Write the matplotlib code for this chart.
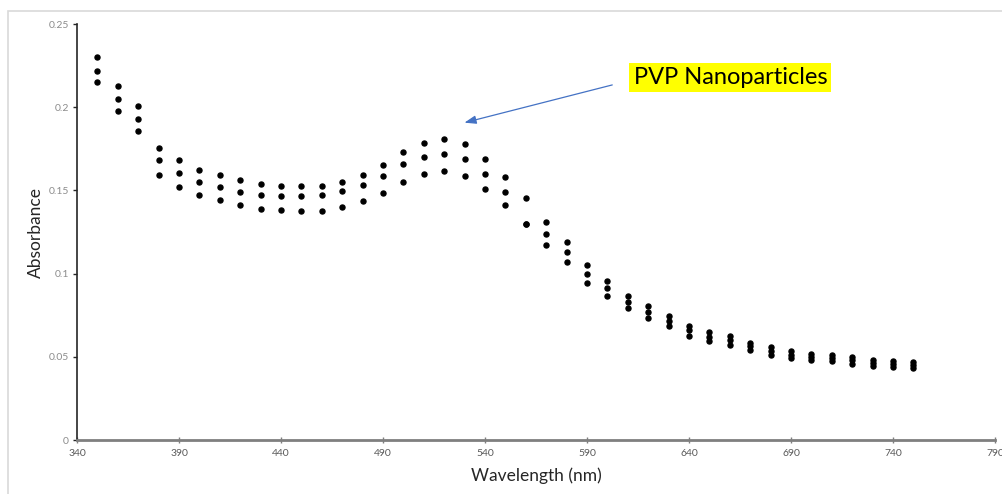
import matplotlib
matplotlib.use("Agg")
import matplotlib.pyplot as plt
from matplotlib.patches import Rectangle

# UV-Vis absorbance of PVP nanoparticles, three repeat scans
wavelength = [350, 360, 370, 380, 390, 400, 410, 420, 430, 440,
              450, 460, 470, 480, 490, 500, 510, 520, 530, 540,
              550, 560, 570, 580, 590, 600, 610, 620, 630, 640,
              650, 660, 670, 680, 690, 700, 710, 720, 730, 740, 750]

scan_1 = [0.2300, 0.2130, 0.2010, 0.1755, 0.1680, 0.1625, 0.1590, 0.1560, 0.1540, 0.1525,
          0.1525, 0.1528, 0.1553, 0.1594, 0.1650, 0.1730, 0.1785, 0.1810, 0.1780, 0.1690,
          0.1580, 0.1454, 0.1308, 0.1192, 0.1052, 0.0958, 0.0867, 0.0807, 0.0747, 0.0687,
          0.0647, 0.0623, 0.0585, 0.0558, 0.0533, 0.0518, 0.0513, 0.0497, 0.0483, 0.0477, 0.0470]

scan_2 = [0.2220, 0.2050, 0.1930, 0.1680, 0.1605, 0.1550, 0.1520, 0.1490, 0.1470, 0.1465,
          0.1465, 0.1470, 0.1494, 0.1530, 0.1585, 0.1657, 0.1703, 0.1717, 0.1690, 0.1597,
          0.1490, 0.1300, 0.1236, 0.1128, 0.0998, 0.0912, 0.0829, 0.0771, 0.0717, 0.0659,
          0.0621, 0.0601, 0.0565, 0.0535, 0.0512, 0.0500, 0.0494, 0.0478, 0.0464, 0.0458, 0.0452]

scan_3 = [0.2150, 0.1980, 0.1855, 0.1595, 0.1520, 0.1470, 0.1440, 0.1410, 0.1390, 0.1380,
          0.1375, 0.1378, 0.1400, 0.1436, 0.1486, 0.1553, 0.1600, 0.1617, 0.1588, 0.1507,
          0.1410, 0.1300, 0.1172, 0.1068, 0.0945, 0.0865, 0.0791, 0.0735, 0.0685, 0.0627,
          0.0595, 0.0573, 0.0541, 0.0512, 0.0492, 0.0480, 0.0472, 0.0456, 0.0443, 0.0437, 0.0432]

x_ticks = [340, 390, 440, 490, 540, 590, 640, 690, 740, 790]
y_ticks = [0, 0.05, 0.1, 0.15, 0.2, 0.25]
y_tick_labels = ["0", "0.05", "0.1", "0.15", "0.2", "0.25"]

plt.rcParams["font.family"] = ["Lato", "DejaVu Sans"]

fig = plt.figure(figsize=(10.03, 4.94), dpi=100)
ax = fig.add_axes([0.0768, 0.1093, 0.9152, 0.8421])

# light chart-area frame
fig.patches.append(Rectangle((8 / 1003, -0.05), 1.1, 0.9777 + 0.05,
                             transform=fig.transFigure, fill=False,
                             edgecolor="#d9d9d9", linewidth=1.2))

for scan in (scan_1, scan_2, scan_3):
    ax.scatter(wavelength, scan, s=13, color="black", zorder=3)

ax.set_xlim(340, 790)
ax.set_ylim(0, 0.25)
ax.set_xticks(x_ticks)
ax.set_yticks(y_ticks)
ax.set_yticklabels(y_tick_labels)

for side in ("top", "right"):
    ax.spines[side].set_visible(False)
ax.spines["left"].set_color("#262626")
ax.spines["left"].set_linewidth(1.2)
ax.spines["bottom"].set_color("#7f7f7f")
ax.spines["bottom"].set_linewidth(2.0)

ax.tick_params(axis="y", direction="out", length=3, width=1, color="#262626",
               labelsize=7.5, labelcolor="#8c8c8c", pad=3)
ax.tick_params(axis="x", direction="inout", length=5, width=1, color="#7f7f7f",
               labelsize=7.5, labelcolor="#595959", pad=4)

ax.set_xlabel("Wavelength (nm)", fontsize=12.5, color="#262626", labelpad=7)
ax.set_ylabel("Absorbance", fontsize=12.5, color="#262626", labelpad=3)

# label pointing at the surface plasmon peak
ax.annotate("", xy=(528.6, 0.1903), xytext=(603.7, 0.2138),
            arrowprops=dict(arrowstyle="-|>,head_length=0.7,head_width=0.25",
                            color="#4472c4", lw=0.9))
ax.text(612.8, 0.2178, "PVP Nanoparticles", fontsize=17, color="black",
        ha="left", va="center",
        bbox=dict(boxstyle="square,pad=0.18", facecolor="#ffff00", edgecolor="none"))

fig.savefig("out.png", dpi=100)
